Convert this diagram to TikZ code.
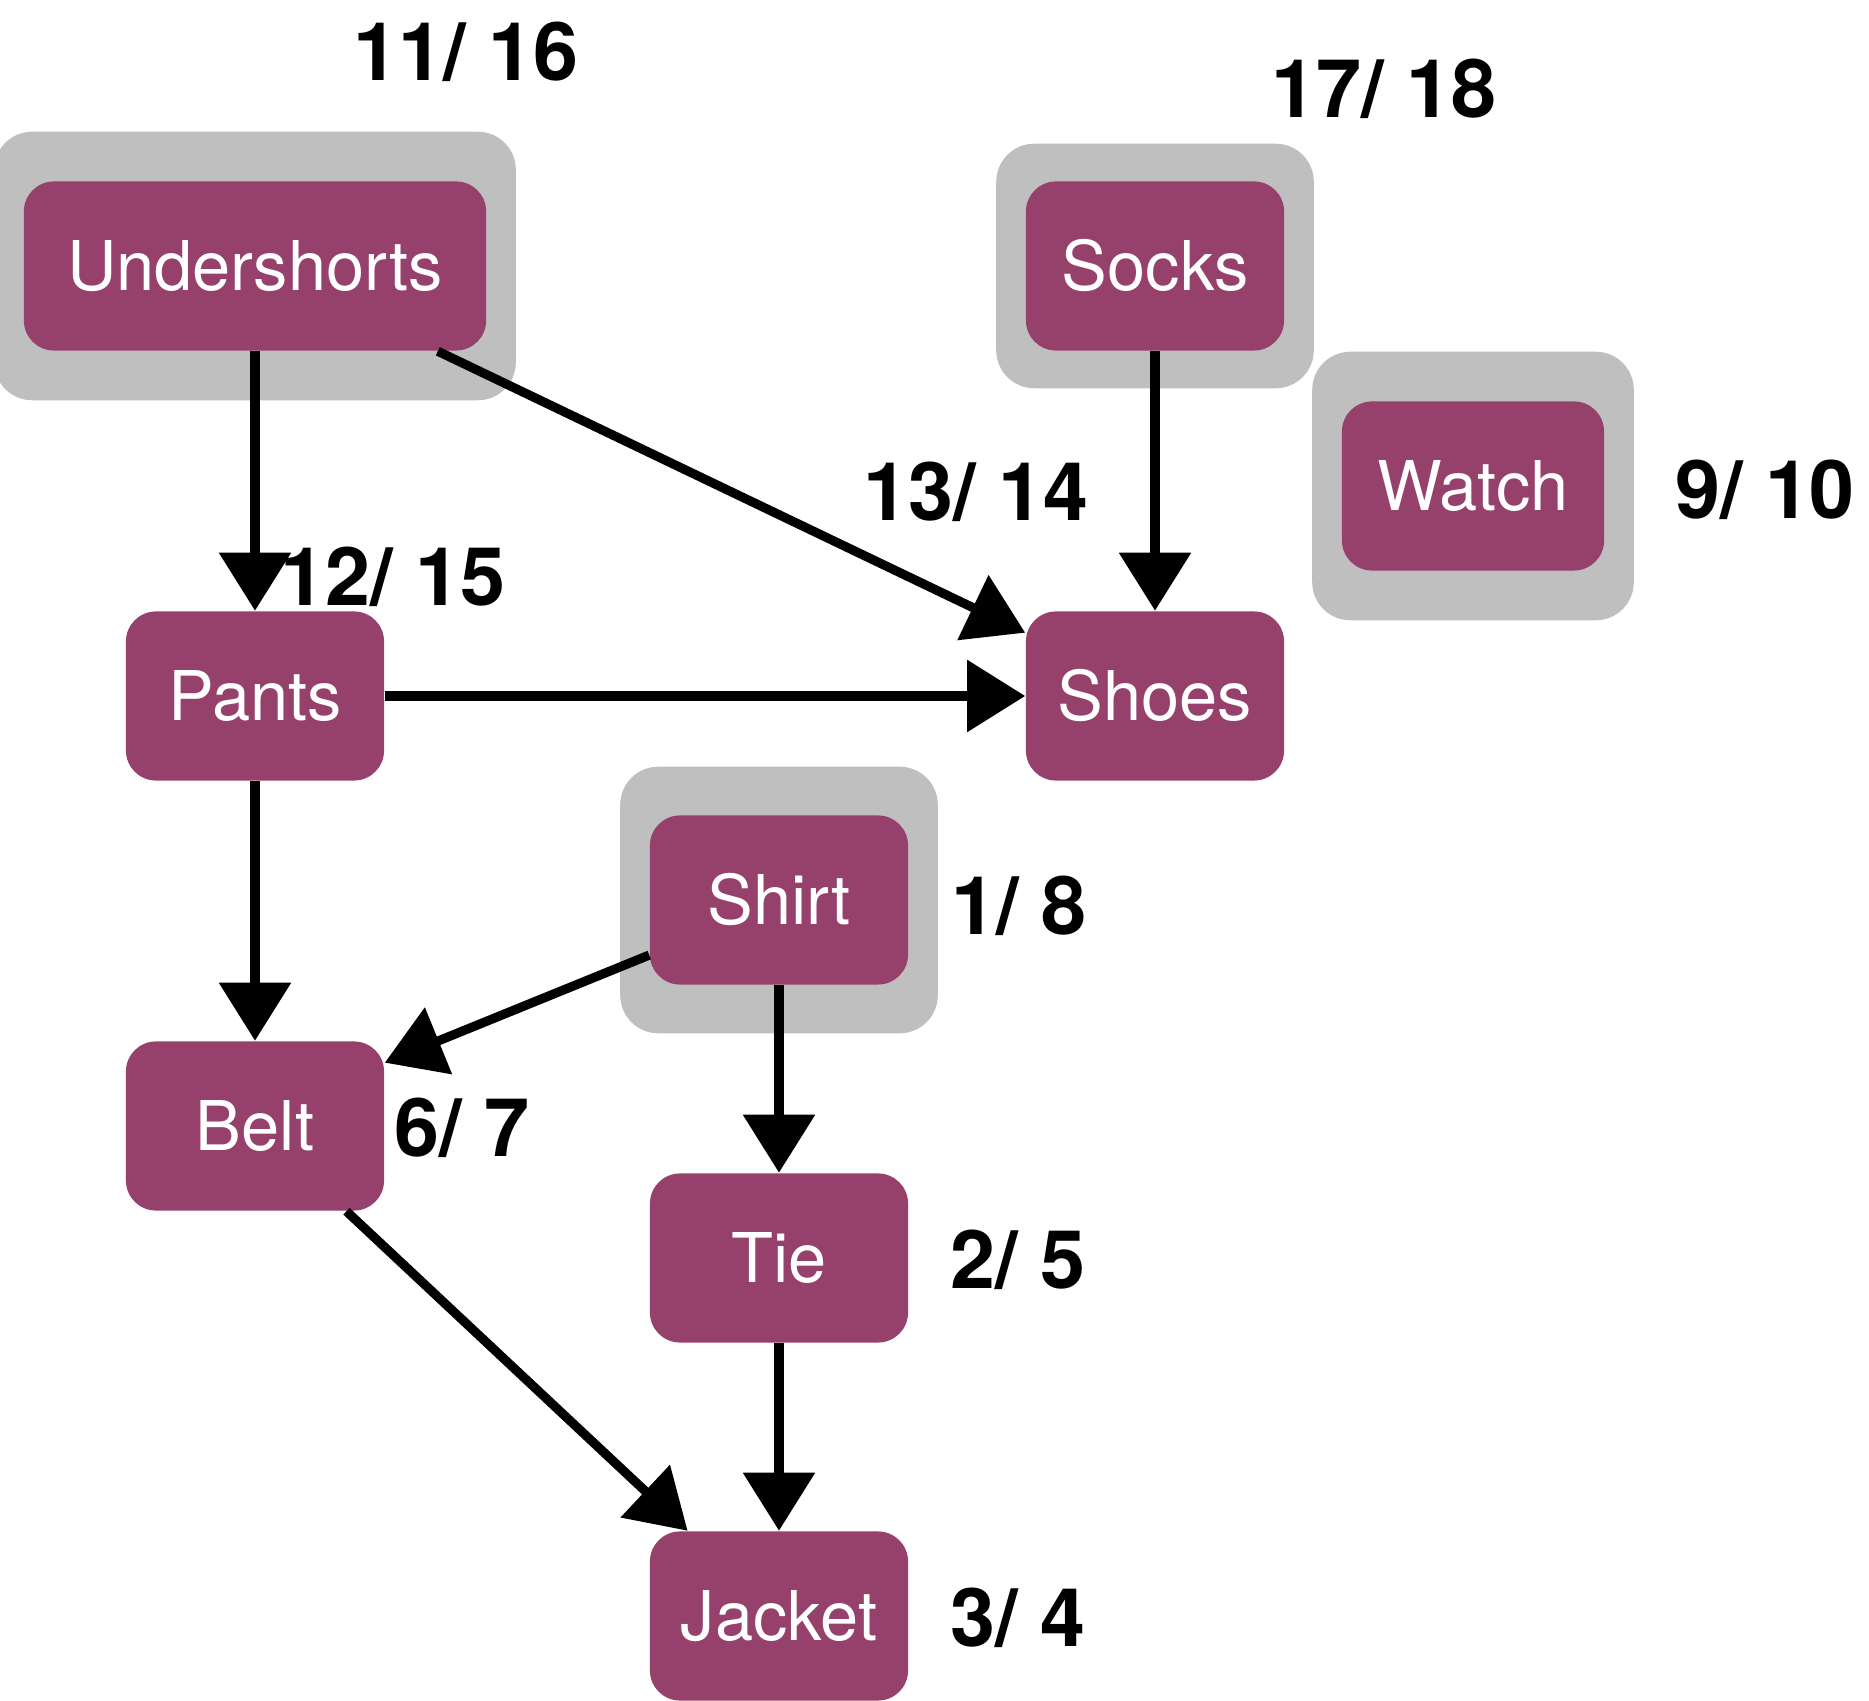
\documentclass[tikz,border=0pt]{standalone}
\usepackage{fontspec}
\setmainfont{TeX Gyre Heros}
\usetikzlibrary{arrows.meta,fit,backgrounds}
\definecolor{plum}{RGB}{150,64,108}
\begin{document}
\begin{tikzpicture}[x=0.01cm,y=-0.01cm,job/.style={shape=rectangle,rounded corners=3mm,fill=plum,text=white,minimum width=2.58cm,minimum height=1.69cm,font=\fontsize{19.5}{20}\selectfont},halo/.style={rounded corners=3.8mm,fill=gray!50,inner xsep=2.9mm},stamp/.style={font=\fontsize{23}{24}\selectfont\bfseries},dep/.style={-{Triangle[length=5.8mm,width=7mm]},line width=2.6pt,black}]
\def\xa{255};
\def\xb{779};
\def\xc{1155};

\useasboundingbox (0,0) rectangle (1869,1701);

\node[job,minimum width=4.62cm] (under) at (\xa,266) {Undershorts};
\node[job] (socks) at (\xc,266) {Socks};
\node[job,minimum width=2.62cm] (watch) at (1473,486) {Watch};
\node[job] (pants) at (\xa,696) {Pants};
\node[job] (shoes) at (\xc,696) {Shoes};
\node[job] (shirt) at (\xb,900) {Shirt};
\node[job] (belt) at (\xa,1126) {Belt};
\node[job] (tie) at (\xb,1258) {Tie};
\node[job] (jacket) at (\xb,1616) {Jacket};

\begin{scope}[on background layer]
\node[halo,inner ysep=4.9mm,fit=(under)] (underH) {};
\node[halo,inner ysep=3.7mm,fit=(socks)] (socksH) {};
\node[halo,inner ysep=4.9mm,fit=(watch)] (watchH) {};
\node[halo,inner ysep=4.8mm,fit=(shirt)] (shirtH) {};
\end{scope}

\draw[dep] (under.south) -- (pants.north);
\draw[dep] (under.-25) -- (shoes.154);
\draw[dep] (socks.south) -- (shoes.north);
\draw[dep] (pants.east) -- (shoes.west);
\draw[dep] (pants.south) -- (belt.north);
\draw[dep] (shirt.203) -- (belt.26);
\draw[dep] (shirt.south) -- (tie.north);
\draw[dep] (belt.-43) -- (jacket.137);
\draw[dep] (tie.south) -- (jacket.north);

\node[stamp] (tUnder) at (466,52) {11/ 16};
\node[stamp] (tSocks) at (1384,89) {17/ 18};
\node[stamp] (tShoes) at (976,492) {13/ 14};
\node[stamp] (tPants) at (393,577) {12/ 15};
\node[stamp] (tWatch) at (1765,490) {9/ 10};
\node[stamp] (tShirt) at (1019,906) {1/ 8};
\node[stamp] (tBelt) at (462,1128) {6/ 7};
\node[stamp] (tTie) at (1018,1260) {2/ 5};
\node[stamp] (tJacket) at (1018,1618) {3/ 4};
\end{tikzpicture}
\end{document}
